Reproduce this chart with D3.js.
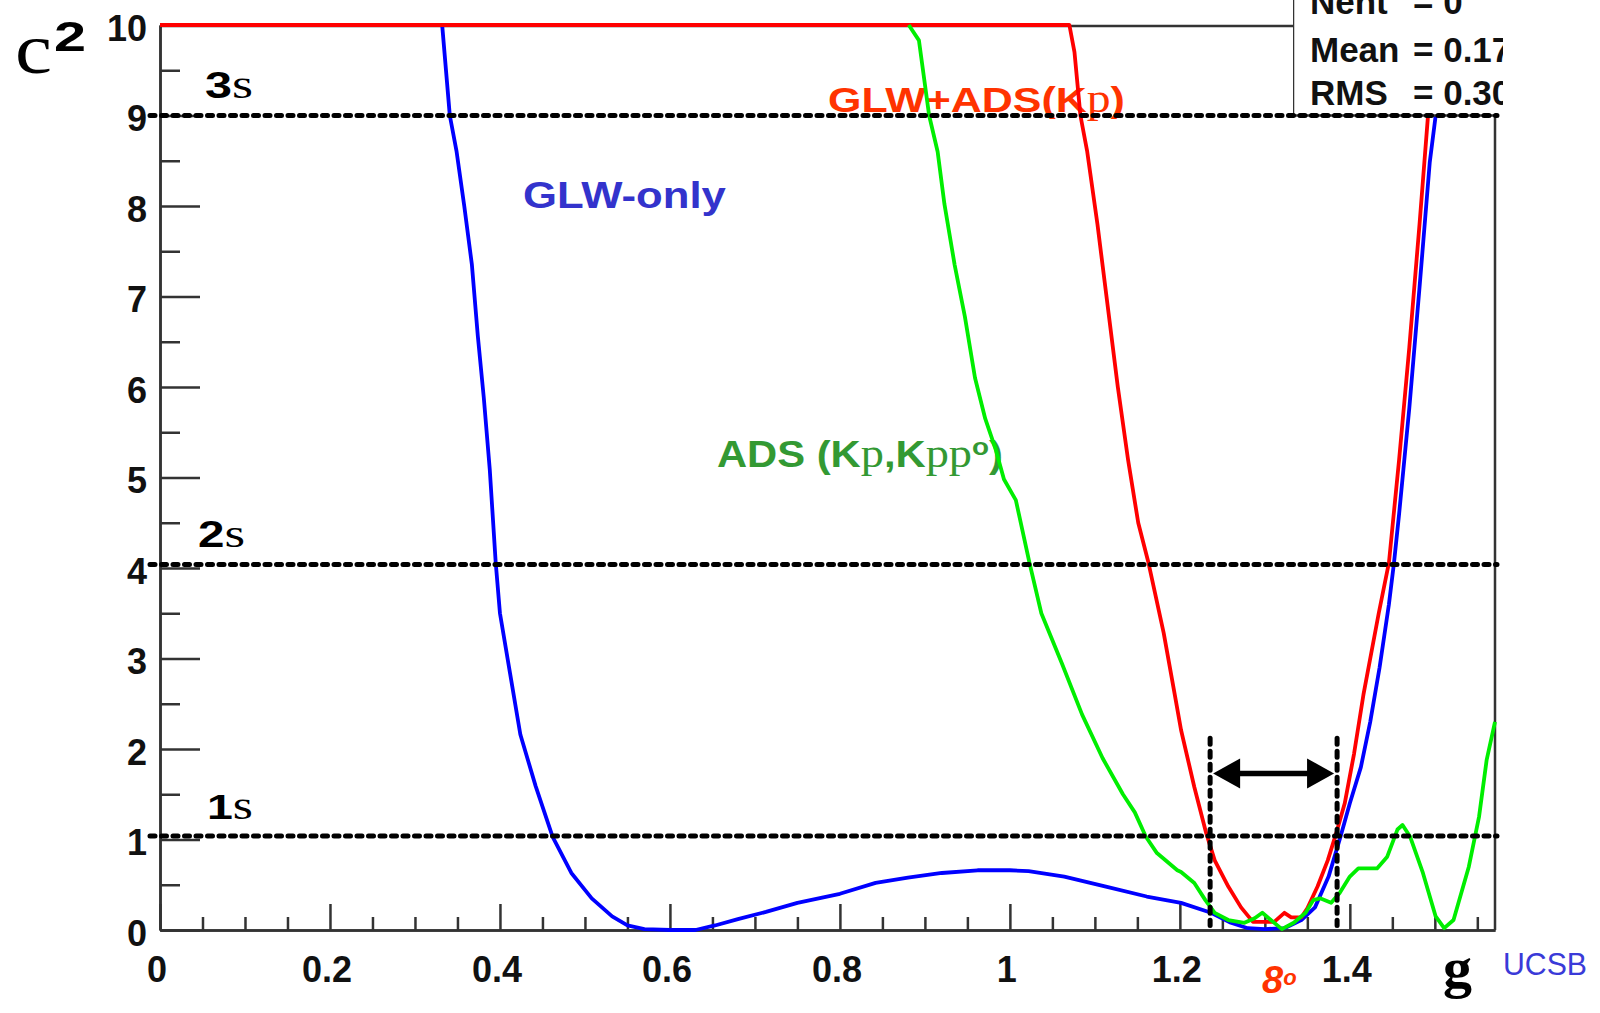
<!DOCTYPE html>
<html><head><meta charset="utf-8">
<script src="https://cdn.jsdelivr.net/npm/d3@7"></script>
<style>html,body{margin:0;padding:0;background:#fff;overflow:hidden} svg{display:block}</style>
</head><body>
<svg id="c" width="1600" height="1013"></svg>
<script>
// ---------- data ----------
const xTickValues = [0, 0.2, 0.4, 0.6, 0.8, 1.0, 1.2, 1.4];
const xTickLabels = ["0", "0.2", "0.4", "0.6", "0.8", "1", "1.2", "1.4"];
const yTickValues = [0, 1, 2, 3, 4, 5, 6, 7, 8, 9, 10];
const yTickLabels = ["0", "1", "2", "3", "4", "5", "6", "7", "8", "9", "10"];

// GLW-only (blue)
const gammaGLW = [0.332,0.341,0.349,0.358,0.367,0.374,0.381,0.388,0.395,0.40,0.412,0.424,0.442,0.462,0.484,0.508,0.532,0.55,0.57,0.60,0.63,0.653,0.68,0.713,0.75,0.80,0.842,0.88,0.92,0.962,1.0,1.022,1.064,1.113,1.161,1.2014,1.2367,1.26,1.28,1.30,1.323,1.343,1.359,1.375,1.389,1.40,1.413,1.424,1.435,1.446,1.452,1.458,1.47,1.482,1.494,1.501,1.51];
const chi2GLW  = [10,9.0,8.6,8.0,7.35,6.56,5.88,5.09,4.06,3.5,2.83,2.16,1.59,1.03,0.63,0.35,0.15,0.05,0.01,0.0,0.0,0.05,0.12,0.2,0.3,0.4,0.52,0.58,0.63,0.66,0.66,0.65,0.59,0.48,0.37,0.30,0.19,0.08,0.02,0.01,0.02,0.11,0.25,0.59,1.03,1.40,1.8,2.3,2.9,3.6,4.06,4.6,5.77,7.1,8.48,9.0,10];

// ADS (K pi, K pi pi0) (green)
const gammaADS = [0.881,0.893,0.905,0.915,0.923,0.935,0.947,0.959,0.971,0.983,0.993,1.007,1.023,1.037,1.061,1.085,1.109,1.133,1.147,1.16,1.173,1.197,1.2014,1.217,1.23,1.241,1.257,1.276,1.288,1.297,1.307,1.32,1.334,1.348,1.357,1.365,1.378,1.388,1.40,1.41,1.432,1.444,1.456,1.462,1.471,1.486,1.501,1.511,1.522,1.54,1.552,1.561,1.5708];
const chi2ADS  = [10,9.83,9.0,8.6,8.02,7.35,6.78,6.1,5.65,5.32,4.98,4.75,4.06,3.5,2.95,2.38,1.9,1.5,1.3,1.03,0.85,0.66,0.64,0.52,0.33,0.19,0.11,0.08,0.13,0.19,0.11,0.01,0.08,0.19,0.33,0.35,0.30,0.41,0.59,0.68,0.68,0.81,1.11,1.16,1.03,0.63,0.15,0.02,0.11,0.70,1.25,1.88,2.3];

// GLW+ADS(K pi) (red)
const gammaComb = [0,1.07,1.076,1.083,1.091,1.103,1.115,1.127,1.139,1.151,1.163,1.181,1.194,1.2014,1.217,1.231,1.241,1.257,1.272,1.286,1.311,1.323,1.331,1.343,1.350,1.362,1.374,1.384,1.394,1.405,1.416,1.434,1.446,1.458,1.47,1.482,1.492,1.50];
const chi2Comb  = [10,10,9.7,9.0,8.6,7.8,6.9,6.0,5.2,4.5,4.06,3.28,2.6,2.21,1.58,1.07,0.77,0.48,0.25,0.09,0.09,0.19,0.14,0.14,0.24,0.48,0.77,1.07,1.40,1.95,2.6,3.5,4.06,5.2,6.44,7.8,9.0,10];

// confidence-level lines (chi2 values as drawn) and the 1-sigma interval
const sigmaLevels = [9.0, 4.04, 1.04];
const sigmaNames  = ["3", "2", "1"];
const intervalEdges = [1.2356, 1.385];
const intervalTop = 2.12, intervalBottom = 0.05, arrowLevel = 1.73;

const statNames  = ["Nent", "Mean", "RMS"];
const statValues = ["0", "0.17", "0.30"];

// ---------- drawing ----------
const svg = d3.select("#c");
const W = 1600, H = 1013;
svg.append("rect").attr("width", W).attr("height", H).attr("fill", "#fff");

const x = d3.scaleLinear().domain([0, 1.5708]).range([160, 1495]);
const y = d3.scaleLinear().domain([0, 10]).range([930, 25]);

const SANS = "'Liberation Sans', Arial, Helvetica, sans-serif";
const SERIF = "'Liberation Serif', 'Times New Roman', serif";
const AX = "#333";

function fit(t, w) {
  const bb = t.node().getBBox();
  const x0 = bb.x;
  const s = w / bb.width;
  t.attr("transform", `translate(${x0},0) scale(${s},1) translate(${-x0},0)`);
}
function rich(g, x0, yb, parts, color, w) {
  const t = g.append("text").attr("x", x0).attr("y", yb).attr("fill", color);
  parts.forEach(p => {
    t.append("tspan").text(p.t)
      .attr("font-family", p.f === "serif" ? SERIF : SANS)
      .attr("font-size", p.s)
      .attr("font-weight", p.w || "bold")
      .attr("font-style", p.i ? "italic" : "normal")
      .attr("dy", p.dy || 0);
  });
  if (w) fit(t, w);
  return t;
}

// axes
const gAx = svg.append("g");
const xMajor = d3.axisTop(x).tickValues(xTickValues).tickSize(26).tickSizeOuter(0).tickFormat("");
const minorX = d3.range(1, 32).filter(i => i % 4 !== 0).map(i => i * 0.05);
const xMinor = d3.axisTop(x).tickValues(minorX).tickSize(13).tickSizeOuter(0).tickFormat("");
gAx.append("g").attr("transform", "translate(0,930)").call(xMajor);
gAx.append("g").attr("transform", "translate(0,930)").call(xMinor);
const yMajor = d3.axisRight(y).tickValues(yTickValues).tickSize(40).tickSizeOuter(0).tickFormat("");
const yMinor = d3.axisRight(y).tickValues(d3.range(0, 10).map(v => v + 0.5)).tickSize(20).tickSizeOuter(0).tickFormat("");
gAx.append("g").attr("transform", "translate(160,0)").call(yMajor);
gAx.append("g").attr("transform", "translate(160,0)").call(yMinor);
gAx.selectAll("path.domain, line").attr("stroke", AX).attr("stroke-width", 2.5);
// frame
gAx.append("line").attr("x1", 160).attr("x2", 1293).attr("y1", 26).attr("y2", 26).attr("stroke", AX).attr("stroke-width", 2.5);
gAx.append("line").attr("x1", 1495).attr("x2", 1495).attr("y1", y(9)).attr("y2", 930).attr("stroke", AX).attr("stroke-width", 2.5);

// tick labels
const gl = svg.append("g").attr("font-family", SANS).attr("font-weight", "bold").attr("font-size", 36).attr("fill", "#111");
gl.selectAll("text.xl").data(xTickValues).join("text").attr("class", "xl")
  .attr("x", d => x(d) - 3).attr("y", 982).attr("text-anchor", "middle")
  .text((d, i) => xTickLabels[i]);
gl.selectAll("text.yl").data(yTickValues).join("text").attr("class", "yl")
  .attr("x", 147).attr("y", d => y(d) + 15.5).attr("text-anchor", "end")
  .text((d, i) => yTickLabels[i]);

// annotations
const ga = svg.append("g");
rich(ga, 15, 73, [{t: "c", f: "serif", s: 72, w: "normal"}], "#000", 37);
rich(ga, 54, 51, [{t: "2", s: 42}], "#000", 32);
const sigmaX = [205, 198, 207], sigmaW = [48, 47, 46];
sigmaLevels.forEach((lv, i) => {
  rich(ga, sigmaX[i], y(lv) - 17, [{t: sigmaNames[i], s: 36}, {t: "s", f: "serif", s: 40, w: "normal"}], "#000", sigmaW[i]);
});
rich(ga, 828, 112, [{t: "GLW+ADS(K", s: 36}, {t: "p", f: "serif", s: 40, w: "normal"}, {t: ")", s: 36}], "#ff3300", 297);
rich(ga, 523, 208, [{t: "GLW-only", s: 36}], "#3333cc", 203);
rich(ga, 717, 467, [{t: "ADS (K", s: 36}, {t: "p", f: "serif", s: 40, w: "normal"}, {t: ",K", s: 36},
  {t: "pp", f: "serif", s: 40, w: "normal"}, {t: "o", s: 24, dy: -12}, {t: ")", s: 36, dy: 12}], "#339933", 286);
rich(ga, 1262, 993, [{t: "8", s: 38, i: true}, {t: "o", s: 22, i: true, dy: -8}], "#ff3300");
rich(ga, 1443, 987, [{t: "g", f: "serif", s: 58}], "#000");
rich(ga, 1503, 975, [{t: "UCSB", s: 32, w: "normal"}], "#3a3ad8", 84);

// curves
const line = d3.line().x(d => x(d[0])).y(d => y(d[1]));
const curves = [
  {g: gammaGLW, c: chi2GLW, col: "#0000ff"},
  {g: gammaComb, c: chi2Comb, col: "#ff0000"},
  {g: gammaADS, c: chi2ADS, col: "#00ee00"}
];
const gc = svg.append("g");
curves.forEach(cv => {
  gc.append("path").datum(cv.g.map((v, i) => [v, cv.c[i]]))
    .attr("d", line).attr("fill", "none").attr("stroke", cv.col)
    .attr("stroke-width", 3.8).attr("stroke-linejoin", "round");
});

// stats box (covers curves above 9)
svg.append("clipPath").attr("id", "sb").append("rect").attr("x", 1293).attr("y", 0).attr("width", 210).attr("height", 120);
const gs = svg.append("g").attr("clip-path", "url(#sb)");
gs.append("rect").attr("x", 1293).attr("y", -5).attr("width", 220).attr("height", y(9) + 5).attr("fill", "#fff");
gs.append("line").attr("x1", 1293).attr("x2", 1293).attr("y1", 0).attr("y2", y(9)).attr("stroke", AX).attr("stroke-width", 2.5);
gs.append("line").attr("x1", 1293).attr("x2", 1495).attr("y1", y(9)).attr("y2", y(9)).attr("stroke", AX).attr("stroke-width", 2.5);
const statY = [14, 62, 105];
statNames.forEach((n, i) => {
  gs.append("text").attr("x", 1310).attr("y", statY[i]).attr("font-family", SANS).attr("font-weight", "bold").attr("font-size", 35).attr("fill", "#111").text(n);
  gs.append("text").attr("x", 1413).attr("y", statY[i]).attr("font-family", SANS).attr("font-weight", "bold").attr("font-size", 35).attr("fill", "#111").text("= " + statValues[i]);
});

// dashed sigma lines
const gd = svg.append("g").attr("stroke", "#000").attr("fill", "none");
gd.selectAll("line.h").data(sigmaLevels).join("line").attr("class", "h")
  .attr("x1", x(0) - 10).attr("x2", x(1.5708) + 2)
  .attr("y1", d => y(d)).attr("y2", d => y(d))
  .attr("stroke-width", 5).attr("stroke-dasharray", "5 6.5").attr("stroke-linecap", "round");
gd.selectAll("line.v").data(intervalEdges).join("line").attr("class", "v")
  .attr("x1", d => x(d)).attr("x2", d => x(d))
  .attr("y1", y(intervalTop)).attr("y2", y(intervalBottom))
  .attr("stroke-width", 5).attr("stroke-dasharray", "6 7").attr("stroke-linecap", "round");

// double arrow
const ax1 = x(intervalEdges[0]) + 3, ax2 = x(intervalEdges[1]) - 3, ay = y(arrowLevel);
const gArr = svg.append("g");
gArr.append("line").attr("x1", ax1 + 20).attr("x2", ax2 - 20).attr("y1", ay).attr("y2", ay).attr("stroke", "#000").attr("stroke-width", 5.5);
gArr.append("path").attr("d", `M${ax1},${ay} L${ax1 + 27},${ay - 15} L${ax1 + 27},${ay + 15} Z`).attr("fill", "#000");
gArr.append("path").attr("d", `M${ax2},${ay} L${ax2 - 27},${ay - 15} L${ax2 - 27},${ay + 15} Z`).attr("fill", "#000");
</script>
</body></html>
